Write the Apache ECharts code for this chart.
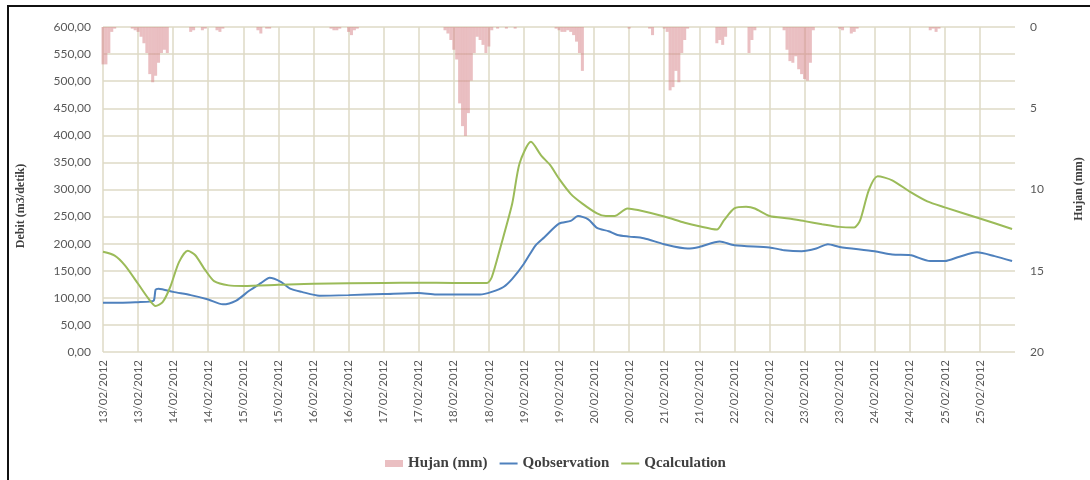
<!DOCTYPE html>
<html>
<head>
<meta charset="utf-8">
<script src="https://cdn.jsdelivr.net/npm/echarts@6/dist/echarts.min.js"></script>
<style>
  body { margin: 0; background: #fff; }
  #wrap { position: relative; width: 1090px; height: 480px; overflow: hidden; }
  #chart { width: 1090px; height: 480px; }
  #frame {
    position: absolute; left: 7px; top: 5px; width: 1100px; height: 500px;
    border-top: 2px solid #111; border-left: 2px solid #111; pointer-events: none;
  }
</style>
</head>
<body>
<div id="wrap">
  <div id="chart"></div>
  <div id="frame"></div>
</div>
<script>
// x = hours since 13/02/2012 00:00, a label every 12 hours
const dateLabels = [
  "13/02/2012", "13/02/2012", "14/02/2012", "14/02/2012", "15/02/2012", "15/02/2012",
  "16/02/2012", "16/02/2012", "17/02/2012", "17/02/2012", "18/02/2012", "18/02/2012",
  "19/02/2012", "19/02/2012", "20/02/2012", "20/02/2012", "21/02/2012", "21/02/2012",
  "22/02/2012", "22/02/2012", "23/02/2012", "23/02/2012", "24/02/2012", "24/02/2012",
  "25/02/2012", "25/02/2012"
];

// Qobservation (m3/detik)
const obsHours = [0, 6, 12, 16, 17.4, 18, 19, 24, 30, 36, 41, 45.6, 50, 54, 57, 61, 64, 68, 74,
  84, 96, 108, 114, 120, 129, 133, 137, 140, 144, 148, 151, 156, 160, 162.5, 166, 169, 173, 176,
  180, 185, 192, 200, 204, 211, 216, 228, 233, 239, 244, 248, 252, 264, 270, 276, 283, 288, 293,
  299, 305, 311];
const obsValues = [91, 91, 92, 93, 95, 115, 117, 111, 105, 97, 88, 95, 113, 127, 137, 129, 117, 111, 104,
  105, 107, 109, 106, 106, 106, 111, 120, 135, 163, 197, 212, 237, 242, 251, 245, 229, 223, 216,
  213, 210, 199, 191, 194, 204, 197, 193, 188, 186, 191, 199, 194, 186, 180, 179, 168, 168, 176,
  184, 177, 168];

// Qcalculation (m3/detik)
const calcHours = [0, 4, 7.5, 12, 15.5, 18, 20.4, 23, 26, 29, 31.5, 35, 38, 43, 48, 60, 72, 96, 108,
  120, 131.4, 133, 136, 140, 142.5, 146.4, 150, 153, 156, 160, 164, 169, 172, 175, 179.4, 183,
  192, 199, 204, 210, 212.4, 216, 220, 223, 228, 234.6, 240, 246, 252, 257, 259, 262, 265, 270,
  276, 282, 288, 300, 311];
const calcValues = [185, 178, 160, 126, 99, 85, 92, 120, 166, 187, 179, 151, 131, 123, 122, 124, 126, 127.5, 128,
  127.5, 127.5, 138, 194, 274, 348, 388, 362, 345, 320, 292, 274, 256, 251, 251, 265, 262,
  250, 238.5, 232, 226, 243, 265, 268, 265, 251, 246.5, 241.6, 236, 231, 230, 243, 299, 324.5, 317,
  296, 278, 267, 246.5, 227];

// Hujan (mm), hourly, only hours with rain
const rainHours = [0, 1, 2, 3, 4, 10, 11, 12, 13, 14, 15, 16, 17, 18, 19, 20, 21, 22,
  30, 31, 34, 35, 39, 40, 41, 53, 54, 56, 57, 78, 79, 80, 81, 84, 85, 86, 87,
  117, 118, 119, 120, 121, 122, 123, 124, 125, 126, 127, 128, 129, 130, 131, 132, 133, 135, 138, 141,
  155, 156, 157, 158, 159, 160, 161, 162, 163, 164, 180, 187, 188,
  192, 193, 194, 195, 196, 197, 198, 199, 200, 210, 211, 212, 213, 221, 222, 223,
  233, 234, 235, 236, 237, 238, 239, 240, 241, 242, 243, 252, 253, 256, 257, 258,
  283, 284, 285, 286];
const rainValues = [2.3, 2.3, 1.6, 0.3, 0.1, 0.1, 0.2, 0.3, 0.6, 1.0, 1.6, 2.9, 3.4, 3.0, 2.2, 1.6, 1.4, 1.6,
  0.3, 0.2, 0.2, 0.1, 0.2, 0.3, 0.1, 0.2, 0.4, 0.1, 0.1, 0.1, 0.2, 0.2, 0.1, 0.3, 0.5, 0.2, 0.1,
  0.2, 0.4, 0.8, 1.4, 2.0, 4.7, 6.1, 6.7, 5.3, 3.3, 1.6, 0.6, 0.8, 1.1, 1.6, 1.2, 0.2, 0.1, 0.1, 0.1,
  0.1, 0.2, 0.3, 0.3, 0.2, 0.3, 0.5, 0.9, 1.6, 2.7, 0.1, 0.1, 0.5,
  0.1, 0.3, 3.9, 3.7, 2.7, 3.4, 1.6, 0.8, 0.1, 1.0, 0.8, 1.1, 0.6, 1.6, 0.8, 0.2,
  0.2, 1.4, 2.1, 2.2, 1.8, 2.6, 2.9, 3.2, 3.3, 2.2, 0.2, 0.1, 0.2, 0.4, 0.3, 0.1,
  0.2, 0.1, 0.3, 0.1];

const pairs = (xs, ys) => xs.map((x, i) => [x, ys[i]]);

const gridColor = "#dedac6";
const labelColor = "#595959";
const sansFont = "Lato";
const serifFont = "Liberation Serif";
// thin bar used as a plain line icon in the legend
const lineIcon = "path://M0,0L18,0L18,2L0,2Z";

const chart = echarts.init(document.getElementById("chart"));
const option = {
  animation: false,
  grid: { left: 103, right: 75, top: 27, bottom: 128 },
  legend: {
    top: 451,
    left: 380,
    itemWidth: 18,
    itemHeight: 7,
    itemGap: 12,
    textStyle: { fontFamily: serifFont, fontWeight: "bold", fontSize: 15, color: "#404040" },
    data: [
      { name: "Hujan (mm)", icon: "rect" },
      { name: "Qobservation", icon: lineIcon },
      { name: "Qcalculation", icon: lineIcon },
    ],
  },
  graphic: [
    {
      type: "text", x: 21, y: 206, rotation: Math.PI / 2,
      style: {
        text: "Debit (m3/detik)", fill: "#404040", font: "bold 12px " + serifFont,
        textAlign: "center", textVerticalAlign: "middle",
      },
    },
    {
      type: "text", x: 1079, y: 189, rotation: Math.PI / 2,
      style: {
        text: "Hujan (mm)", fill: "#404040", font: "bold 12px " + serifFont,
        textAlign: "center", textVerticalAlign: "middle",
      },
    },
  ],
  xAxis: {
    type: "value",
    min: 0,
    max: 312,
    interval: 12,
    axisLine: { show: false },
    axisTick: { show: false },
    splitLine: { show: true, showMaxLine: false, lineStyle: { color: gridColor, width: 1.5 } },
    axisLabel: {
      rotate: 90,
      margin: 8,
      fontSize: 11.5,
      fontFamily: sansFont,
      color: labelColor,
      formatter: (v) => dateLabels[Math.round(v / 12)] || "",
    },
  },
  yAxis: [
    {
      type: "value",
      min: 0,
      max: 600,
      interval: 50,
      axisLine: { show: false },
      axisTick: { show: false },
      splitLine: { show: true, lineStyle: { color: gridColor, width: 1.5 } },
      axisLabel: {
        margin: 12,
        fontSize: 12,
        fontFamily: sansFont,
        color: labelColor,
        formatter: (v) => v.toFixed(2).replace(".", ","),
      },
    },
    {
      type: "value",
      min: 0,
      max: 20,
      interval: 5,
      inverse: true,
      axisLine: { show: false },
      axisTick: { show: false },
      splitLine: { show: false },
      axisLabel: { margin: 15, fontSize: 12, fontFamily: sansFont, color: labelColor },
    },
  ],
  series: [
    {
      name: "Hujan (mm)",
      type: "bar",
      yAxisIndex: 1,
      barWidth: 3,
      itemStyle: { color: "rgba(214,128,133,0.5)" },
      data: pairs(rainHours, rainValues),
    },
    {
      name: "Qobservation",
      type: "line",
      symbol: "none",
      smooth: 0.25,
      lineStyle: { color: "#4f81bd", width: 2 },
      itemStyle: { color: "#4f81bd" },
      data: pairs(obsHours, obsValues),
    },
    {
      name: "Qcalculation",
      type: "line",
      symbol: "none",
      smooth: 0.25,
      lineStyle: { color: "#9bbb59", width: 2 },
      itemStyle: { color: "#9bbb59" },
      data: pairs(calcHours, calcValues),
    },
  ],
};
chart.setOption(option);
</script>
</body>
</html>
